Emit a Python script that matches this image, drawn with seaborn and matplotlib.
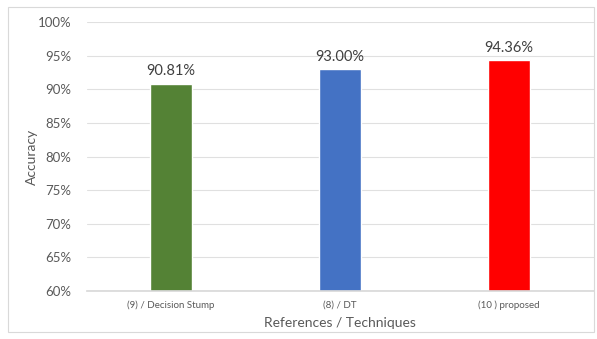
import pandas as pd
import seaborn as sns
import matplotlib.pyplot as plt
from matplotlib.patches import Rectangle
from matplotlib.ticker import PercentFormatter

# chart values
techniques = ["(9) / Decision Stump", "(8) / DT", "(10 ) proposed"]
accuracy = [90.81, 93.00, 94.36]
bar_colors = ["#548235", "#4472C4", "#FF0000"]

df = pd.DataFrame({"technique": techniques, "accuracy": accuracy})

sns.set_theme(style="white")
plt.rcParams["font.family"] = ["Lato", "DejaVu Sans"]
text_col = "#595959"

fig = plt.figure(figsize=(5.97, 3.39), dpi=100)
ax = fig.add_axes([86.5 / 597, 1 - 291 / 339, 507 / 597, 269 / 339])

sns.barplot(data=df, x="technique", y="accuracy", hue="technique",
            palette=bar_colors, width=0.243, legend=False, ax=ax,
            saturation=1, zorder=3)

ax.set_ylim(60, 100)
ax.set_yticks(range(60, 101, 5))
ax.yaxis.set_major_formatter(PercentFormatter(decimals=0))
ax.grid(axis="y", color="#E0E0E0", linewidth=0.8, zorder=0)
for s in ["top", "right", "left"]:
    ax.spines[s].set_visible(False)
ax.spines["bottom"].set_color("#D9D9D9")
ax.spines["bottom"].set_zorder(4)

ax.tick_params(axis="y", labelsize=9.5, colors=text_col, length=0, pad=11)
ax.tick_params(axis="x", labelsize=7, colors=text_col, length=0, pad=7)

ax.set_ylabel("Accuracy", fontsize=10, color=text_col, labelpad=0)
ax.set_xlabel("References / Techniques", fontsize=10, color=text_col, labelpad=5)

for i, v in enumerate(accuracy):
    ax.text(i, v + 0.8, f"{v:.2f}%", ha="center", va="bottom",
            fontsize=10.5, color="#404040")

# outer chart frame
fig.patches.append(Rectangle((8 / 597, 1 - 332 / 339), 586 / 597, 325 / 339,
                             transform=fig.transFigure, fill=False,
                             edgecolor="#D9D9D9", linewidth=0.8))

fig.savefig("out.png", dpi=100)
